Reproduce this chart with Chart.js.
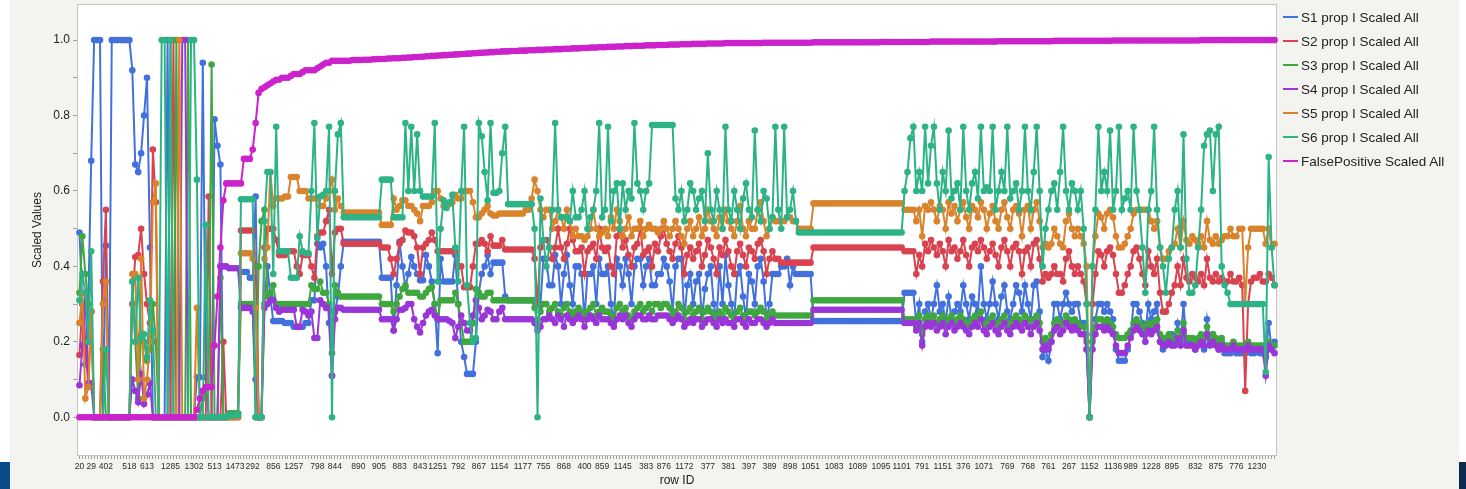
<!DOCTYPE html>
<html>
<head>
<meta charset="utf-8">
<script src="https://cdn.jsdelivr.net/npm/chart.js@4.4.1/dist/chart.umd.min.js"></script>
<style>
  html, body { margin: 0; padding: 0; background: #ffffff; }
  body { width: 1466px; height: 489px; position: relative; overflow: hidden;
         font-family: "Liberation Sans", Arial, Helvetica, sans-serif; }
  #panel { position: absolute; left: 10px; top: 0; width: 1449px; height: 489px; background: #f3f3ef; }
  #cornerL { position: absolute; left: 0; top: 462px; width: 10px; height: 27px; background: #0d4a8b; }
  #cornerR { position: absolute; left: 1459px; top: 462px; width: 7px; height: 27px; background: #0c2b4f; }
  #chart { position: absolute; left: 0; top: 0; }
  #legend { position: absolute; left: 1283px; top: 5px; }
  .item { height: 24px; display: flex; align-items: center; font-size: 13.5px; color: #222; white-space: nowrap; }
  .swatch { width: 15px; height: 2px; margin-right: 3px; }
</style>
</head>
<body>
<div id="panel"></div>
<div id="cornerL"></div>
<div id="cornerR"></div>
<canvas id="chart" width="1466" height="489"></canvas>
<div id="legend"></div>
<script>
// Series names and colours
const seriesNames = [
  'S1 prop I Scaled All', 'S2 prop I Scaled All', 'S3 prop I Scaled All',
  'S4 prop I Scaled All', 'S5 prop I Scaled All', 'S6 prop I Scaled All',
  'FalsePositive Scaled All'
];
const seriesColors = ['#4270dc', '#d9434f', '#3ea83e', '#9a35d8', '#d9832c', '#2db386', '#cc22cc'];

// Row ID tick labels and the row position each one sits on
const tickRowIds = ['20','29','402','518','613','1285','1302','513','1473','292','856','1257','798','844','890','905','883','843','1251','792','867','1154','1177','755','868','400','859','1145','383','876','1172','377','381','397','389','898','1051','1083','1089','1095','1101','791','1151','376','1071','769','768','761','267','1152','1136','989','1228','895','832','875','776','1230'];
const tickRowPos = [0,4,9,17,23,31,39,46,53,59,66,73,81,87,95,102,109,116,122,129,136,143,151,158,165,172,178,185,193,199,206,214,221,228,235,242,249,257,265,273,280,287,294,301,308,316,323,330,337,344,352,358,365,372,380,387,394,401];

// Y axis ticks
const yTickValues = [0, 0.1, 0.2, 0.3, 0.4, 0.5, 0.6, 0.7, 0.8, 0.9, 1.0];
const yTickLabels = ['0.0', '', '0.2', '', '0.4', '', '0.6', '', '0.8', '', '1.0'];

const s1 = [
0.49,0.30,0.14,0.30,0.68,1.0,1.0,1.0,0.0,0.455,
0.0,1.0,1.0,1.0,1.0,1.0,1.0,1.0,0.92,0.67,
0.65,0.70,0.80,0.90,0.45,0.0,0.0,0.0,0.0,0.0,
1.0,0.0,0.0,0.0,0.0,0.0,0.0,0.0,0.0,0.0,
0.106,0.106,0.94,0.106,0.0,0.0,0.79,0.72,0.67,0.0,
0.0,0.01,0.01,0.01,0.01,0.385,0.385,0.385,0.37,0.37,
0.585,0.0,0.0,0.30,0.40,0.32,0.255,0.255,0.255,0.255,
0.25,0.25,0.25,0.24,0.24,0.24,0.24,0.25,0.25,0.31,
0.31,0.46,0.45,0.46,0.40,0.25,0.11,0.28,0.32,0.40,
0.465,0.465,0.465,0.465,0.465,0.465,0.465,0.465,0.465,0.465,
0.465,0.465,0.465,0.37,0.37,0.37,0.37,0.23,0.35,0.465,
0.40,0.345,0.38,0.425,0.40,0.38,0.363,0.363,0.43,0.40,
0.36,0.30,0.17,0.42,0.36,0.36,0.36,0.36,0.43,0.30,
0.20,0.16,0.115,0.115,0.115,0.20,0.33,0.38,0.40,0.43,
0.38,0.41,0.41,0.41,0.41,0.32,0.31,0.31,0.31,0.31,
0.31,0.31,0.31,0.31,0.31,0.31,0.24,0.30,0.42,0.42,
0.35,0.35,0.43,0.40,0.30,0.38,0.43,0.35,0.30,0.40,
0.40,0.38,0.26,0.38,0.38,0.40,0.30,0.42,0.38,0.38,
0.40,0.30,0.25,0.42,0.40,0.35,0.42,0.38,0.30,0.40,
0.42,0.42,0.35,0.40,0.42,0.35,0.35,0.38,0.38,0.42,
0.40,0.36,0.28,0.40,0.42,0.42,0.26,0.35,0.38,0.30,
0.36,0.38,0.26,0.34,0.38,0.40,0.30,0.26,0.40,0.30,
0.43,0.35,0.30,0.26,0.38,0.40,0.32,0.26,0.38,0.36,
0.30,0.40,0.42,0.36,0.26,0.30,0.38,0.38,0.38,0.40,
0.40,0.42,0.35,0.40,0.38,0.38,0.38,0.38,0.38,0.38,
0.255,0.255,0.255,0.255,0.255,0.255,0.255,0.255,0.255,0.255,
0.255,0.255,0.255,0.255,0.255,0.255,0.255,0.255,0.255,0.255,
0.255,0.255,0.255,0.255,0.255,0.255,0.255,0.255,0.255,0.255,
0.255,0.33,0.33,0.33,0.33,0.25,0.30,0.20,0.28,0.30,
0.26,0.30,0.35,0.28,0.30,0.25,0.32,0.26,0.28,0.30,
0.28,0.35,0.30,0.26,0.32,0.30,0.28,0.40,0.30,0.26,
0.30,0.36,0.30,0.26,0.32,0.35,0.28,0.26,0.30,0.35,
0.33,0.28,0.35,0.30,0.26,0.35,0.36,0.28,0.16,0.18,
0.15,0.20,0.30,0.30,0.26,0.30,0.33,0.30,0.28,0.30,
0.30,0.25,0.25,0.18,0.0,0.22,0.26,0.30,0.30,0.28,
0.30,0.28,0.26,0.18,0.15,0.15,0.15,0.18,0.22,0.30,
0.30,0.28,0.25,0.22,0.30,0.26,0.28,0.30,0.20,0.18,
0.20,0.20,0.22,0.20,0.25,0.20,0.30,0.20,0.20,0.20,
0.18,0.20,0.20,0.18,0.26,0.20,0.22,0.20,0.18,0.20,
0.17,0.17,0.17,0.18,0.17,0.17,0.17,0.17,0.18,0.17,
0.17,0.18,0.17,0.17,0.16,0.25,0.18,0.20
];

const s2 = [
0.165,0.30,0.20,0.08,0.28,0.0,0.0,0.0,0.36,0.55,
0.0,0.0,0.0,0.0,0.0,0.0,0.0,0.0,0.30,0.425,
0.43,0.50,0.38,0.30,0.25,0.71,0.57,0.0,0.0,0.0,
0.0,0.0,1.0,0.0,0.0,0.0,0.0,0.0,0.0,0.0,
0.0,0.0,0.0,0.0,0.585,0.0,0.0,0.0,0.0,0.20,
0.0,0.0,0.0,0.0,0.0,0.495,0.495,0.495,0.495,0.495,
0.40,0.0,0.0,0.45,0.50,0.50,0.50,0.47,0.43,0.43,
0.43,0.44,0.44,0.44,0.40,0.38,0.43,0.43,0.43,0.40,
0.37,0.48,0.49,0.49,0.52,0.55,0.38,0.49,0.50,0.50,
0.46,0.46,0.46,0.46,0.46,0.46,0.46,0.46,0.46,0.46,
0.46,0.46,0.46,0.45,0.45,0.45,0.42,0.38,0.42,0.46,
0.47,0.495,0.49,0.49,0.48,0.45,0.38,0.45,0.46,0.47,
0.49,0.47,0.44,0.44,0.44,0.44,0.44,0.44,0.44,0.40,
0.40,0.345,0.345,0.345,0.40,0.46,0.46,0.47,0.46,0.44,
0.48,0.455,0.455,0.455,0.47,0.445,0.445,0.445,0.445,0.445,
0.445,0.445,0.445,0.445,0.445,0.42,0.30,0.45,0.47,0.47,
0.45,0.42,0.45,0.50,0.45,0.42,0.46,0.50,0.47,0.44,
0.44,0.45,0.38,0.44,0.45,0.46,0.42,0.50,0.45,0.44,
0.45,0.40,0.38,0.48,0.50,0.45,0.47,0.43,0.40,0.45,
0.46,0.50,0.43,0.44,0.45,0.40,0.46,0.44,0.48,0.50,
0.46,0.44,0.42,0.46,0.48,0.45,0.38,0.43,0.45,0.42,
0.44,0.46,0.40,0.43,0.47,0.45,0.42,0.38,0.45,0.43,
0.47,0.44,0.40,0.38,0.44,0.46,0.43,0.40,0.45,0.44,
0.42,0.46,0.47,0.44,0.38,0.42,0.44,0.42,0.42,0.41,
0.41,0.41,0.41,0.41,0.41,0.41,0.41,0.41,0.41,0.41,
0.45,0.45,0.45,0.45,0.45,0.45,0.45,0.45,0.45,0.45,
0.45,0.45,0.45,0.45,0.45,0.45,0.45,0.45,0.45,0.45,
0.45,0.45,0.45,0.45,0.45,0.45,0.45,0.45,0.45,0.45,
0.45,0.44,0.44,0.44,0.44,0.38,0.43,0.40,0.46,0.44,
0.47,0.45,0.43,0.46,0.44,0.40,0.47,0.44,0.45,0.42,
0.44,0.47,0.43,0.40,0.45,0.46,0.44,0.47,0.45,0.42,
0.44,0.46,0.43,0.40,0.45,0.47,0.44,0.40,0.45,0.46,
0.44,0.38,0.44,0.45,0.40,0.46,0.47,0.42,0.36,0.38,
0.37,0.38,0.40,0.38,0.38,0.36,0.42,0.44,0.40,0.38,
0.40,0.38,0.36,0.30,0.0,0.30,0.38,0.44,0.43,0.40,
0.44,0.45,0.43,0.38,0.33,0.33,0.35,0.38,0.40,0.44,
0.45,0.42,0.38,0.35,0.44,0.40,0.38,0.42,0.33,0.28,
0.28,0.30,0.33,0.35,0.40,0.35,0.42,0.37,0.36,0.38,
0.37,0.36,0.38,0.35,0.42,0.37,0.36,0.38,0.36,0.37,
0.36,0.36,0.38,0.36,0.36,0.37,0.35,0.07,0.30,0.36,
0.37,0.37,0.38,0.36,0.36,0.38,0.37,0.35
];

const s3 = [
0.33,0.48,0.38,0.30,0.28,0.0,0.0,0.0,0.18,0.0,
0.0,0.0,0.0,0.0,0.0,0.0,0.0,0.0,0.36,0.20,
0.05,0.22,0.20,0.15,0.18,0.30,0.20,0.0,0.0,0.0,
0.0,1.0,0.0,1.0,0.0,0.0,0.0,1.0,0.0,0.0,
0.0,0.0,0.05,0.07,0.08,0.935,0.0,0.0,0.37,0.0,
0.0,0.01,0.01,0.01,0.01,0.30,0.30,0.30,0.30,0.30,
0.0,0.40,0.52,0.55,0.32,0.33,0.35,0.30,0.30,0.30,
0.30,0.30,0.30,0.30,0.30,0.30,0.30,0.30,0.30,0.35,
0.34,0.34,0.36,0.33,0.33,0.30,0.17,0.35,0.33,0.32,
0.32,0.32,0.32,0.32,0.32,0.32,0.32,0.32,0.32,0.32,
0.32,0.32,0.32,0.30,0.30,0.30,0.30,0.28,0.30,0.32,
0.34,0.35,0.33,0.33,0.33,0.33,0.32,0.32,0.33,0.34,
0.345,0.30,0.26,0.31,0.31,0.31,0.31,0.31,0.33,0.30,
0.25,0.20,0.20,0.20,0.25,0.34,0.33,0.32,0.32,0.33,
0.33,0.31,0.31,0.31,0.31,0.31,0.31,0.31,0.31,0.31,
0.31,0.31,0.31,0.31,0.31,0.29,0.25,0.28,0.30,0.30,
0.28,0.29,0.30,0.28,0.27,0.29,0.30,0.28,0.27,0.28,
0.29,0.28,0.26,0.28,0.29,0.30,0.27,0.28,0.29,0.28,
0.28,0.27,0.26,0.29,0.30,0.28,0.29,0.27,0.26,0.28,
0.29,0.30,0.28,0.29,0.30,0.28,0.30,0.30,0.29,0.30,
0.30,0.29,0.27,0.28,0.30,0.29,0.26,0.28,0.29,0.27,
0.28,0.29,0.26,0.28,0.29,0.28,0.27,0.26,0.28,0.27,
0.29,0.28,0.27,0.26,0.28,0.29,0.27,0.26,0.28,0.28,
0.27,0.28,0.29,0.28,0.26,0.27,0.28,0.27,0.27,0.27,
0.27,0.27,0.27,0.27,0.27,0.27,0.27,0.27,0.27,0.27,
0.31,0.31,0.31,0.31,0.31,0.31,0.31,0.31,0.31,0.31,
0.31,0.31,0.31,0.31,0.31,0.31,0.31,0.31,0.31,0.31,
0.31,0.31,0.31,0.31,0.31,0.31,0.31,0.31,0.31,0.31,
0.31,0.26,0.26,0.26,0.26,0.24,0.27,0.22,0.26,0.27,
0.26,0.27,0.25,0.26,0.27,0.24,0.26,0.27,0.25,0.26,
0.27,0.26,0.25,0.24,0.26,0.27,0.26,0.28,0.25,0.24,
0.26,0.27,0.25,0.24,0.26,0.27,0.25,0.24,0.26,0.27,
0.26,0.25,0.27,0.26,0.24,0.26,0.27,0.25,0.20,0.21,
0.20,0.22,0.25,0.26,0.24,0.25,0.27,0.26,0.25,0.26,
0.25,0.24,0.24,0.20,0.0,0.20,0.24,0.26,0.26,0.25,
0.26,0.25,0.24,0.22,0.21,0.21,0.21,0.22,0.23,0.25,
0.26,0.25,0.24,0.22,0.25,0.24,0.25,0.26,0.22,0.21,
0.21,0.22,0.21,0.21,0.23,0.21,0.25,0.21,0.21,0.21,
0.20,0.21,0.22,0.21,0.24,0.21,0.22,0.21,0.20,0.21,
0.19,0.19,0.19,0.20,0.19,0.19,0.19,0.19,0.20,0.19,
0.19,0.19,0.19,0.19,0.18,0.20,0.19,0.19
];

const s4 = [
0.085,0.19,0.33,0.09,0.09,0.0,0.0,0.0,0.0,0.0,
0.0,0.0,0.0,0.0,0.0,0.0,0.0,0.0,0.10,0.07,
0.04,0.115,0.035,0.06,0.09,0.0,0.0,0.0,0.0,0.0,
0.0,0.0,0.0,0.0,0.0,1.0,1.0,0.0,0.0,0.0,
0.0,0.0,0.0,0.0,0.0,0.0,0.0,0.0,0.40,0.40,
0.40,0.395,0.395,0.395,0.395,0.29,0.29,0.29,0.29,0.28,
0.10,0.0,0.0,0.29,0.30,0.31,0.31,0.29,0.28,0.285,
0.285,0.285,0.285,0.285,0.24,0.24,0.285,0.28,0.27,0.28,
0.21,0.21,0.31,0.30,0.29,0.29,0.11,0.26,0.29,0.29,
0.285,0.285,0.285,0.285,0.285,0.285,0.285,0.285,0.285,0.285,
0.285,0.285,0.285,0.26,0.26,0.26,0.26,0.23,0.26,0.285,
0.285,0.29,0.30,0.30,0.26,0.24,0.225,0.25,0.27,0.28,
0.285,0.27,0.26,0.26,0.26,0.26,0.255,0.25,0.21,0.24,
0.27,0.25,0.23,0.23,0.27,0.31,0.29,0.26,0.27,0.285,
0.28,0.26,0.26,0.28,0.29,0.26,0.26,0.26,0.26,0.26,
0.26,0.26,0.26,0.26,0.26,0.25,0.23,0.24,0.26,0.26,
0.27,0.26,0.25,0.27,0.26,0.24,0.27,0.26,0.25,0.26,
0.27,0.26,0.24,0.26,0.27,0.26,0.25,0.27,0.26,0.26,
0.26,0.25,0.24,0.26,0.27,0.26,0.27,0.25,0.24,0.26,
0.27,0.27,0.26,0.26,0.27,0.26,0.26,0.27,0.27,0.27,
0.27,0.26,0.25,0.26,0.27,0.26,0.24,0.25,0.26,0.25,
0.26,0.26,0.24,0.25,0.26,0.26,0.25,0.24,0.26,0.25,
0.26,0.25,0.25,0.24,0.26,0.26,0.25,0.24,0.26,0.25,
0.25,0.26,0.26,0.25,0.24,0.25,0.26,0.25,0.25,0.25,
0.25,0.25,0.25,0.25,0.25,0.25,0.25,0.25,0.25,0.25,
0.285,0.285,0.285,0.285,0.285,0.285,0.285,0.285,0.285,0.285,
0.285,0.285,0.285,0.285,0.285,0.285,0.285,0.285,0.285,0.285,
0.285,0.285,0.285,0.285,0.285,0.285,0.285,0.285,0.285,0.285,
0.285,0.25,0.25,0.25,0.25,0.23,0.25,0.19,0.24,0.25,
0.24,0.25,0.23,0.24,0.25,0.22,0.24,0.25,0.23,0.24,
0.25,0.24,0.23,0.22,0.24,0.25,0.24,0.26,0.23,0.22,
0.24,0.25,0.23,0.22,0.24,0.25,0.23,0.22,0.24,0.25,
0.24,0.23,0.25,0.24,0.22,0.24,0.25,0.23,0.18,0.19,
0.18,0.20,0.23,0.24,0.22,0.23,0.25,0.24,0.23,0.24,
0.23,0.22,0.22,0.18,0.0,0.18,0.22,0.24,0.24,0.23,
0.24,0.23,0.22,0.19,0.17,0.17,0.17,0.19,0.21,0.23,
0.24,0.23,0.22,0.20,0.23,0.22,0.23,0.24,0.20,0.19,
0.19,0.20,0.19,0.19,0.21,0.19,0.23,0.19,0.19,0.19,
0.18,0.19,0.20,0.19,0.22,0.19,0.20,0.19,0.18,0.19,
0.18,0.18,0.18,0.19,0.18,0.18,0.18,0.18,0.19,0.18,
0.18,0.18,0.18,0.18,0.11,0.19,0.18,0.17
];

const s5 = [
0.25,0.33,0.05,0.08,0.28,0.0,0.0,0.0,0.30,0.36,
0.0,0.0,0.0,0.0,0.0,0.0,0.0,0.0,0.38,0.38,
0.10,0.42,0.05,0.10,0.20,0.57,0.62,0.0,0.0,0.0,
0.0,0.0,0.0,0.0,1.0,0.0,0.0,0.0,0.0,0.0,
0.29,0.0,0.0,0.0,0.0,0.0,0.0,0.0,0.0,0.0,
0.0,0.0,0.0,0.0,0.0,0.435,0.435,0.435,0.435,0.42,
0.29,0.0,0.0,0.42,0.45,0.65,0.56,0.58,0.58,0.58,
0.585,0.585,0.637,0.637,0.637,0.60,0.60,0.60,0.58,0.58,
0.58,0.58,0.56,0.56,0.58,0.60,0.63,0.55,0.58,0.56,
0.543,0.543,0.543,0.543,0.543,0.543,0.543,0.543,0.543,0.543,
0.543,0.543,0.543,0.51,0.51,0.51,0.51,0.58,0.55,0.56,
0.575,0.575,0.56,0.56,0.55,0.54,0.52,0.56,0.56,0.56,
0.57,0.60,0.60,0.58,0.56,0.565,0.565,0.57,0.59,0.58,
0.58,0.60,0.60,0.60,0.57,0.53,0.53,0.54,0.55,0.56,
0.54,0.535,0.535,0.54,0.54,0.54,0.54,0.54,0.54,0.54,
0.54,0.54,0.55,0.55,0.58,0.63,0.60,0.55,0.53,0.55,
0.55,0.50,0.52,0.55,0.53,0.50,0.55,0.52,0.48,0.50,
0.48,0.48,0.47,0.48,0.50,0.55,0.50,0.48,0.49,0.50,
0.48,0.53,0.50,0.55,0.52,0.48,0.50,0.53,0.48,0.50,
0.50,0.52,0.48,0.50,0.51,0.50,0.50,0.49,0.50,0.52,
0.50,0.48,0.50,0.52,0.50,0.48,0.46,0.50,0.52,0.48,
0.50,0.53,0.48,0.50,0.55,0.52,0.50,0.48,0.53,0.50,
0.55,0.52,0.50,0.48,0.52,0.56,0.50,0.48,0.52,0.50,
0.50,0.55,0.57,0.52,0.48,0.50,0.53,0.52,0.52,0.52,
0.52,0.53,0.53,0.52,0.52,0.50,0.50,0.50,0.50,0.50,
0.567,0.567,0.567,0.567,0.567,0.567,0.567,0.567,0.567,0.567,
0.567,0.567,0.567,0.567,0.567,0.567,0.567,0.567,0.567,0.567,
0.567,0.567,0.567,0.567,0.567,0.567,0.567,0.567,0.567,0.567,
0.567,0.55,0.55,0.55,0.55,0.52,0.55,0.48,0.56,0.55,
0.57,0.55,0.52,0.56,0.55,0.50,0.57,0.54,0.56,0.52,
0.55,0.57,0.53,0.50,0.56,0.55,0.53,0.57,0.55,0.50,
0.54,0.56,0.52,0.50,0.55,0.57,0.53,0.50,0.55,0.56,
0.54,0.48,0.55,0.56,0.50,0.55,0.57,0.52,0.45,0.46,
0.45,0.46,0.50,0.48,0.46,0.45,0.52,0.54,0.50,0.48,
0.50,0.48,0.46,0.40,0.0,0.40,0.48,0.54,0.53,0.50,
0.54,0.55,0.53,0.48,0.45,0.45,0.46,0.48,0.50,0.54,
0.55,0.55,0.55,0.55,0.55,0.52,0.50,0.52,0.45,0.42,
0.42,0.44,0.45,0.46,0.50,0.45,0.52,0.47,0.46,0.48,
0.47,0.46,0.48,0.45,0.52,0.47,0.46,0.48,0.46,0.47,
0.48,0.48,0.50,0.48,0.48,0.50,0.50,0.30,0.45,0.50,
0.50,0.50,0.50,0.50,0.46,0.50,0.45,0.46
];

const s6 = [
0.31,0.38,0.33,0.20,0.44,0.0,0.0,0.0,0.0,0.18,
0.0,0.0,0.0,0.0,0.0,0.0,0.0,0.0,0.36,0.20,
0.37,0.21,0.22,0.16,0.31,0.23,0.0,0.0,1.0,1.0,
0.0,1.0,0.0,0.0,0.0,0.0,0.0,0.0,1.0,1.0,
0.63,0.0,0.0,0.51,0.0,0.0,0.0,0.0,0.0,0.0,
0.0,0.005,0.005,0.005,0.005,0.578,0.578,0.578,0.578,0.578,
0.0,0.0,0.0,0.52,0.65,0.65,0.38,0.77,0.44,0.44,
0.44,0.44,0.37,0.37,0.37,0.48,0.44,0.435,0.435,0.60,
0.78,0.475,0.585,0.59,0.60,0.77,0.0,0.60,0.75,0.78,
0.53,0.53,0.53,0.53,0.53,0.53,0.53,0.53,0.53,0.53,
0.53,0.53,0.53,0.63,0.63,0.63,0.63,0.53,0.53,0.53,
0.53,0.78,0.60,0.77,0.60,0.75,0.60,0.585,0.585,0.585,
0.585,0.78,0.36,0.50,0.575,0.555,0.57,0.59,0.45,0.36,
0.60,0.77,0.35,0.25,0.20,0.21,0.78,0.745,0.65,0.575,
0.78,0.595,0.595,0.60,0.70,0.77,0.565,0.565,0.565,0.565,
0.565,0.565,0.565,0.565,0.565,0.50,0.0,0.58,0.47,0.40,
0.45,0.55,0.78,0.55,0.53,0.53,0.53,0.52,0.60,0.53,
0.53,0.55,0.60,0.50,0.53,0.55,0.60,0.78,0.53,0.55,
0.77,0.52,0.60,0.62,0.50,0.62,0.55,0.60,0.58,0.78,
0.62,0.60,0.55,0.60,0.62,0.775,0.775,0.775,0.775,0.775,
0.775,0.775,0.775,0.58,0.55,0.60,0.52,0.55,0.62,0.60,
0.55,0.58,0.60,0.52,0.70,0.55,0.52,0.60,0.55,0.50,
0.77,0.55,0.52,0.60,0.55,0.50,0.58,0.62,0.55,0.53,
0.76,0.55,0.52,0.60,0.58,0.50,0.53,0.77,0.55,0.50,
0.77,0.53,0.55,0.60,0.52,0.49,0.49,0.49,0.49,0.49,
0.49,0.49,0.49,0.49,0.49,0.49,0.49,0.49,0.49,0.49,
0.49,0.49,0.49,0.49,0.49,0.49,0.49,0.49,0.49,0.49,
0.49,0.49,0.49,0.49,0.49,0.49,0.49,0.49,0.49,0.49,
0.49,0.60,0.65,0.74,0.77,0.60,0.65,0.60,0.77,0.62,
0.72,0.77,0.62,0.55,0.65,0.60,0.76,0.58,0.60,0.62,
0.55,0.77,0.60,0.55,0.62,0.65,0.58,0.77,0.60,0.61,
0.60,0.77,0.55,0.60,0.65,0.60,0.77,0.58,0.60,0.62,
0.55,0.60,0.77,0.60,0.55,0.65,0.77,0.60,0.40,0.50,
0.55,0.60,0.62,0.55,0.65,0.77,0.60,0.55,0.62,0.60,
0.55,0.60,0.50,0.30,0.0,0.40,0.55,0.77,0.60,0.65,
0.60,0.76,0.55,0.60,0.77,0.55,0.58,0.60,0.55,0.77,
0.60,0.55,0.45,0.33,0.55,0.60,0.77,0.55,0.45,0.40,
0.33,0.42,0.45,0.55,0.60,0.45,0.75,0.42,0.33,0.33,
0.35,0.45,0.55,0.72,0.75,0.76,0.60,0.75,0.77,0.40,
0.35,0.33,0.30,0.30,0.30,0.30,0.30,0.30,0.30,0.30,
0.30,0.30,0.30,0.30,0.12,0.69,0.45,0.35
];

const falsePositive = [
0,0,0,0,0,0,0,0,0,0,
0,0,0,0,0,0,0,0,0,0,
0,0,0,0,0,0,0,0,0,0,
0,0,0,0,0,0,0,0,0,0,
0.02,0.05,0.07,0.08,0.08,0.08,0.19,0.32,0.45,0.575,
0.62,0.62,0.62,0.62,0.62,0.62,0.685,0.685,0.685,0.71,
0.78,0.86,0.87,0.875,0.88,0.885,0.89,0.895,0.895,0.90,
0.90,0.90,0.905,0.91,0.91,0.91,0.915,0.92,0.92,0.92,
0.92,0.925,0.93,0.935,0.94,0.94,0.945,0.945,0.945,0.945,
0.945,0.945,0.945,0.947,0.947,0.947,0.947,0.948,0.948,0.948,
0.949,0.949,0.950,0.950,0.950,0.951,0.951,0.952,0.952,0.952,
0.953,0.953,0.954,0.954,0.955,0.955,0.956,0.956,0.957,0.957,
0.958,0.958,0.959,0.959,0.960,0.960,0.961,0.961,0.962,0.962,
0.963,0.963,0.964,0.964,0.965,0.965,0.966,0.966,0.967,0.967,
0.968,0.968,0.969,0.969,0.970,0.970,0.970,0.971,0.971,0.971,
0.972,0.972,0.972,0.973,0.973,0.973,0.974,0.974,0.974,0.975,
0.975,0.975,0.976,0.976,0.976,0.977,0.977,0.977,0.978,0.978,
0.978,0.979,0.979,0.979,0.980,0.980,0.980,0.981,0.981,0.981,
0.982,0.982,0.982,0.983,0.983,0.983,0.984,0.984,0.984,0.985,
0.985,0.985,0.985,0.986,0.986,0.986,0.986,0.987,0.987,0.987,
0.987,0.988,0.988,0.988,0.988,0.989,0.989,0.989,0.989,0.990,
0.990,0.990,0.990,0.990,0.991,0.991,0.991,0.991,0.991,0.991,
0.992,0.992,0.992,0.992,0.992,0.992,0.992,0.992,0.992,0.992,
0.992,0.992,0.992,0.993,0.993,0.993,0.993,0.993,0.993,0.993,
0.993,0.993,0.993,0.993,0.993,0.993,0.993,0.993,0.993,0.993,
0.994,0.994,0.994,0.994,0.994,0.994,0.994,0.994,0.994,0.994,
0.994,0.994,0.994,0.994,0.994,0.994,0.994,0.994,0.994,0.994,
0.994,0.994,0.994,0.995,0.995,0.995,0.995,0.995,0.995,0.995,
0.995,0.995,0.995,0.995,0.995,0.995,0.995,0.995,0.995,0.995,
0.996,0.996,0.996,0.996,0.996,0.996,0.996,0.996,0.996,0.996,
0.996,0.996,0.996,0.996,0.996,0.996,0.996,0.996,0.996,0.996,
0.996,0.996,0.996,0.997,0.997,0.997,0.997,0.997,0.997,0.997,
0.997,0.997,0.997,0.997,0.997,0.997,0.997,0.997,0.997,0.997,
0.997,0.997,0.998,0.998,0.998,0.998,0.998,0.998,0.998,0.998,
0.998,0.998,0.998,0.998,0.998,0.998,0.998,0.998,0.998,0.998,
0.998,0.998,0.999,0.999,0.999,0.999,0.999,0.999,0.999,0.999,
0.999,0.999,0.999,0.999,0.999,0.999,0.999,0.999,0.999,0.999,
0.999,0.999,0.999,0.999,0.999,0.999,0.999,0.999,0.999,0.999,
0.999,0.999,1.0,1.0,1.0,1.0,1.0,1.0,1.0,1.0,
1.0,1.0,1.0,1.0,1.0,1.0,1.0,1.0,1.0,1.0,
1.0,1.0,1.0,1.0,1.0,1.0,1.0,1.0
];

const seriesValues = [s1, s2, s3, s4, s5, s6, falsePositive];
const rowCount = s1.length;

// One category per row; only the labelled rows carry text
const rowLabels = new Array(rowCount).fill('');
tickRowPos.forEach((p, k) => { rowLabels[p] = tickRowIds[k]; });

const FONT = '"Liberation Sans", Arial, Helvetica, sans-serif';

// White plot area with a thin grey frame
const frame = {
  id: 'frame',
  beforeDraw(chart) {
    const a = chart.chartArea, c = chart.ctx;
    c.save(); c.fillStyle = '#ffffff';
    c.fillRect(a.left, a.top, a.right - a.left, a.bottom - a.top);
    c.restore();
  },
  beforeDatasetsDraw(chart) {
    const a = chart.chartArea, c = chart.ctx;
    c.save(); c.strokeStyle = '#c4c4c4'; c.lineWidth = 1;
    c.strokeRect(a.left - 0.5, a.top - 0.5, a.right - a.left + 1, a.bottom - a.top + 1);
    c.restore();
  }
};

const datasets = seriesValues.map((vals, k) => ({
  label: seriesNames[k],
  data: vals,
  borderColor: seriesColors[k],
  backgroundColor: seriesColors[k],
  pointBackgroundColor: seriesColors[k],
  pointBorderWidth: 0,
  pointRadius: 3.3,
  pointHoverRadius: 3.3,
  borderWidth: 2,
  tension: 0,
  order: seriesValues.length - 1 - k
}));

new Chart(document.getElementById('chart'), {
  type: 'line',
  data: { labels: rowLabels, datasets },
  plugins: [frame],
  options: {
    responsive: false,
    animation: false,
    events: [],
    layout: { padding: { left: 0, right: 190, top: 5, bottom: 0 } },
    plugins: { legend: { display: false }, tooltip: { enabled: false } },
    scales: {
      x: {
        type: 'category',
        offset: true,
        border: { display: false },
        grid: { drawOnChartArea: false, drawTicks: true, tickLength: 4, color: '#a0a0a0', lineWidth: 1 },
        ticks: { autoSkip: false, maxRotation: 0, minRotation: 0, padding: 3,
                 color: '#2a2a2a', font: { family: FONT, size: 8.5 } },
        title: { display: true, text: 'row ID', color: '#222',
                 font: { family: FONT, size: 12 }, padding: { top: 0, bottom: 1 } },
        afterFit(s) { s.height = 34; s.paddingLeft = 0; s.paddingRight = 0; }
      },
      y: {
        min: -0.1,
        max: 1.093,
        border: { display: false },
        afterBuildTicks(s) { s.ticks = yTickValues.map(v => ({ value: v })); },
        grid: { drawOnChartArea: false, drawTicks: true, tickLength: 5, color: '#a0a0a0' },
        ticks: { padding: 3, color: '#222', font: { family: FONT, size: 12 },
                 callback: (v, i) => yTickLabels[i] },
        title: { display: true, text: 'Scaled Values', color: '#222',
                 font: { family: FONT, size: 12 }, padding: { top: 30, bottom: 0 } },
        afterFit(s) { s.width = 78; s.paddingTop = 0; s.paddingBottom = 0; }
      }
    }
  }
});

// Legend at the right of the plot
const legend = document.getElementById('legend');
seriesNames.forEach((name, k) => {
  const item = document.createElement('div');
  item.className = 'item';
  const sw = document.createElement('span');
  sw.className = 'swatch';
  sw.style.background = seriesColors[k];
  const tx = document.createElement('span');
  tx.textContent = name;
  item.appendChild(sw); item.appendChild(tx);
  legend.appendChild(item);
});
</script>
</body>
</html>
